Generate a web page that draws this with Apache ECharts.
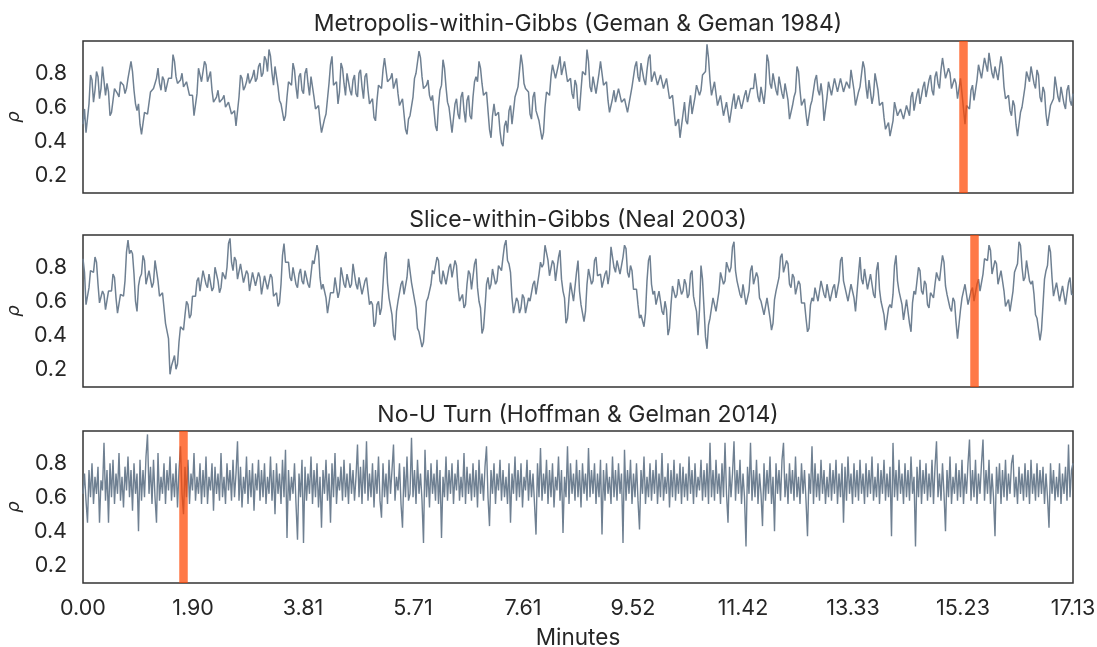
<!DOCTYPE html>
<html><head><meta charset="utf-8">
<script src="https://cdn.jsdelivr.net/npm/echarts@6/dist/echarts.min.js"></script>
<style>html,body{margin:0;padding:0;background:#fff}#c{width:1097px;height:647px}</style>
</head><body><div id="c"></div>
<script>
const panelTitles = ['Metropolis-within-Gibbs (Geman & Geman 1984)', 'Slice-within-Gibbs (Neal 2003)', 'No-U Turn (Hoffman & Gelman 2014)'];
const durationMinutes = 17.133;
const xTickSteps = 9;
const yTickValues = [0.2, 0.4, 0.6, 0.8];
const yRange = [0.095, 0.99];
const highlightMinutes = [15.24, 15.43, 1.74];
const xAxisName = 'Minutes';
const yAxisName = 'ρ';

const metropolis = [
.50,.59,.45,.45,.62,.79,.76,.63,.70,.81,.78,.65,.71,.84,.84,.67,.74,.69,.55,.57,
.58,.71,.70,.68,.66,.75,.75,.73,.68,.71,.77,.77,.87,.81,.70,.62,.58,.62,.50,.44,
.44,.57,.58,.56,.55,.69,.68,.71,.74,.77,.83,.74,.70,.78,.76,.69,.68,.77,.78,.77,
.91,.87,.78,.74,.74,.76,.80,.72,.72,.75,.76,.67,.66,.67,.55,.54,.68,.83,.82,.75,
.76,.87,.85,.75,.78,.81,.70,.63,.64,.66,.70,.63,.62,.65,.67,.60,.60,.63,.63,.56,
.56,.58,.49,.50,.66,.79,.77,.70,.72,.75,.80,.74,.75,.78,.82,.75,.77,.84,.86,.78,
.80,.90,.88,.81,.94,.90,.80,.73,.84,.85,.72,.64,.62,.63,.52,.55,.66,.75,.74,.73,
.86,.82,.72,.65,.78,.80,.70,.68,.80,.83,.74,.67,.78,.79,.66,.59,.58,.61,.52,.45,
.44,.53,.56,.57,.74,.85,.90,.73,.72,.75,.62,.69,.86,.83,.74,.67,.80,.81,.70,.67,
.76,.79,.68,.66,.80,.82,.72,.65,.78,.80,.70,.62,.62,.65,.54,.52,.64,.73,.74,.71,
.82,.89,.90,.75,.74,.77,.80,.71,.70,.77,.68,.61,.62,.65,.56,.47,.44,.53,.55,.55,
.66,.77,.80,.79,.93,.89,.78,.71,.70,.73,.76,.67,.64,.67,.58,.49,.46,.61,.70,.73,
.88,.83,.72,.63,.60,.59,.45,.45,.62,.65,.56,.53,.66,.69,.58,.51,.64,.67,.55,.53,
.66,.75,.78,.75,.87,.83,.74,.67,.66,.69,.58,.47,.42,.55,.62,.55,.54,.57,.46,.39,
.37,.49,.52,.45,.58,.61,.50,.51,.66,.69,.72,.73,.91,.85,.74,.71,.70,.69,.56,.53,
.66,.69,.58,.55,.52,.53,.41,.45,.60,.69,.70,.67,.78,.85,.84,.77,.76,.85,.90,.79,
.80,.87,.88,.75,.74,.77,.68,.65,.76,.73,.60,.58,.70,.81,.80,.79,.94,.87,.72,.69,
.78,.79,.68,.67,.80,.87,.88,.73,.72,.75,.64,.57,.56,.65,.70,.63,.64,.71,.72,.63,
.62,.65,.66,.57,.56,.67,.72,.71,.84,.87,.78,.75,.86,.85,.76,.73,.82,.89,.91,.75,
.74,.81,.82,.73,.72,.79,.78,.71,.70,.77,.76,.65,.66,.67,.58,.49,.50,.53,.42,.43,
.56,.63,.52,.50,.60,.67,.56,.55,.66,.73,.74,.67,.70,.79,.80,.81,.97,.89,.76,.67,
.68,.75,.74,.61,.60,.67,.66,.55,.56,.63,.62,.51,.52,.63,.68,.59,.60,.67,.66,.59,
.58,.67,.70,.63,.62,.71,.72,.71,.80,.79,.66,.63,.72,.71,.62,.71,.91,.87,.74,.71,
.80,.81,.70,.67,.78,.79,.68,.65,.74,.73,.64,.53,.52,.61,.66,.69,.84,.81,.70,.61,
.62,.65,.56,.49,.50,.61,.64,.63,.76,.79,.70,.67,.74,.67,.52,.53,.66,.75,.74,.67,
.68,.77,.76,.69,.70,.77,.78,.69,.68,.75,.74,.71,.82,.81,.70,.61,.60,.69,.72,.73,
.87,.83,.72,.65,.76,.75,.62,.67,.80,.81,.70,.61,.62,.63,.54,.47,.48,.51,.43,.43,
.52,.63,.64,.55,.56,.59,.60,.53,.52,.61,.62,.55,.66,.69,.58,.57,.68,.71,.62,.61,
.72,.75,.66,.65,.76,.79,.70,.67,.78,.81,.74,.71,.82,.89,.88,.77,.76,.83,.80,.71,
.70,.77,.74,.65,.66,.77,.78,.59,.50,.61,.62,.59,.70,.73,.64,.65,.76,.85,.84,.77,
.78,.89,.90,.81,.92,.91,.80,.77,.84,.85,.76,.77,.90,.85,.72,.65,.66,.67,.58,.55,
.64,.61,.50,.43,.44,.57,.60,.61,.72,.81,.80,.75,.84,.83,.74,.71,.82,.79,.66,.63,
.72,.69,.56,.49,.50,.61,.62,.65,.78,.77,.66,.63,.72,.71,.62,.59,.70,.73,.64,.61,.68
];

const slice = [
.85,.77,.58,.58,.68,.78,.78,.77,.86,.83,.70,.59,.58,.66,.64,.55,.56,.66,.66,.66,
.76,.74,.62,.53,.54,.64,.64,.63,.72,.89,.96,.88,.90,.88,.76,.60,.54,.69,.74,.76,
.87,.84,.70,.69,.78,.78,.68,.71,.84,.83,.72,.63,.64,.65,.56,.47,.48,.38,.17,.22,
.25,.28,.20,.23,.36,.45,.44,.43,.52,.60,.58,.50,.52,.63,.64,.63,.72,.74,.66,.67,
.78,.79,.70,.68,.76,.76,.66,.68,.80,.81,.72,.65,.68,.77,.76,.73,.80,.94,.97,.83,
.78,.86,.84,.73,.72,.82,.82,.71,.70,.78,.76,.66,.66,.77,.78,.69,.70,.77,.74,.64,
.64,.75,.76,.67,.68,.76,.74,.63,.62,.65,.57,.59,.70,.87,.94,.83,.82,.83,.74,.72,
.80,.80,.70,.68,.76,.79,.72,.70,.78,.79,.70,.68,.76,.84,.82,.83,.93,.89,.74,.67,
.70,.71,.62,.53,.54,.65,.66,.65,.74,.73,.62,.66,.80,.80,.70,.68,.76,.77,.68,.70,
.82,.81,.70,.67,.74,.74,.64,.63,.72,.74,.66,.58,.60,.58,.45,.47,.58,.60,.52,.56,
.70,.85,.89,.71,.62,.62,.52,.40,.37,.54,.60,.60,.70,.72,.64,.64,.74,.85,.85,.71,
.66,.66,.56,.44,.42,.43,.33,.36,.48,.60,.62,.61,.70,.78,.76,.76,.86,.84,.72,.70,
.78,.79,.70,.70,.80,.82,.74,.74,.84,.81,.68,.60,.62,.64,.56,.58,.70,.78,.76,.67,
.68,.82,.85,.68,.60,.56,.41,.44,.56,.70,.74,.67,.70,.79,.78,.70,.72,.81,.80,.78,
.86,.93,.96,.84,.82,.77,.62,.53,.54,.62,.60,.53,.56,.64,.62,.53,.54,.62,.60,.60,
.70,.72,.64,.65,.76,.83,.80,.82,.93,.92,.84,.75,.76,.84,.82,.72,.72,.86,.90,.73,
.66,.62,.47,.50,.62,.71,.70,.60,.60,.77,.84,.66,.58,.58,.48,.54,.70,.79,.78,.70,
.72,.84,.86,.75,.74,.76,.68,.67,.76,.78,.70,.76,.92,.91,.80,.77,.84,.85,.76,.76,
.86,.93,.91,.77,.74,.81,.78,.67,.66,.67,.58,.50,.52,.53,.45,.53,.72,.84,.87,.70,
.64,.66,.58,.57,.66,.65,.54,.52,.60,.55,.40,.44,.58,.69,.70,.62,.64,.73,.72,.64,
.66,.73,.70,.62,.64,.76,.78,.63,.58,.54,.40,.55,.81,.73,.56,.39,.32,.46,.50,.51,
.62,.63,.54,.55,.66,.77,.78,.70,.72,.83,.84,.77,.80,.92,.95,.78,.72,.73,.64,.62,
.70,.69,.58,.57,.66,.78,.81,.70,.70,.77,.74,.62,.60,.61,.52,.52,.62,.61,.50,.43,
.47,.61,.66,.65,.74,.86,.88,.77,.76,.84,.82,.70,.68,.76,.74,.64,.64,.72,.70,.59,
.58,.59,.50,.42,.44,.58,.62,.60,.68,.69,.60,.61,.72,.73,.64,.62,.70,.70,.60,.59,
.68,.70,.62,.62,.72,.84,.86,.72,.68,.69,.60,.60,.70,.71,.62,.54,.55,.76,.86,.73,
.70,.79,.78,.67,.66,.76,.76,.64,.62,.78,.83,.67,.60,.61,.52,.43,.44,.56,.58,.56,
.64,.81,.87,.72,.66,.67,.58,.49,.50,.61,.62,.47,.42,.59,.66,.64,.72,.80,.78,.66,
.64,.72,.70,.58,.56,.65,.64,.62,.70,.77,.74,.72,.80,.87,.83,.69,.64,.65,.56,.54,
.62,.60,.48,.38,.38,.55,.62,.61,.70,.69,.58,.57,.66,.68,.60,.60,.70,.73,.66,.66,
.76,.85,.84,.84,.93,.90,.76,.75,.84,.82,.70,.69,.78,.77,.66,.57,.58,.61,.54,.55,
.66,.77,.78,.82,.95,.93,.80,.72,.74,.84,.84,.72,.70,.72,.64,.52,.50,.49,.37,.43,
.58,.73,.78,.81,.93,.89,.74,.63,.62,.71,.70,.60,.60,.69,.68,.58,.58,.71,.74,.64,.64
];

const nuts = [
.62,.74,.58,.45,.76,.60,.80,.56,.72,.62,.78,.45,.70,.64,.92,.58,.76,.45,.80,.60,
.82,.56,.74,.62,.86,.58,.72,.54,.78,.64,.84,.60,.76,.52,.80,.62,.74,.40,.82,.58,
.76,.60,.84,.97,.62,.78,.56,.82,.60,.45,.86,.58,.72,.62,.80,.56,.76,.64,.84,.58,
.74,.60,.80,.54,.76,.90,.62,.50,.78,.60,.82,.56,.74,.64,.86,.58,.72,.62,.80,.56,
.76,.60,.84,.56,.72,.64,.80,.52,.78,.62,.74,.58,.86,.60,.72,.56,.80,.64,.76,.58,
.82,.60,.74,.93,.58,.78,.54,.72,.62,.84,.56,.76,.60,.80,.52,.74,.64,.82,.58,.76,
.60,.80,.56,.72,.62,.84,.58,.76,.50,.80,.62,.74,.56,.82,.60,.88,.36,.76,.58,.72,
.62,.80,.56,.35,.74,.60,.82,.33,.78,.58,.74,.62,.84,.56,.76,.60,.80,.54,.72,.42,
.76,.62,.82,.58,.74,.45,.80,.60,.86,.56,.72,.64,.78,.58,.82,.60,.74,.56,.80,.62,
.76,.58,.72,.91,.60,.78,.56,.82,.62,.93,.58,.74,.60,.80,.54,.76,.62,.84,.58,.48,
.80,.60,.74,.56,.82,.62,.76,.91,.58,.72,.64,.80,.56,.42,.78,.60,.84,.58,.62,.95,
.60,.76,.56,.82,.62,.74,.58,.33,.88,.60,.76,.54,.80,.62,.74,.58,.82,.56,.76,.36,
.72,.60,.84,.58,.76,.62,.80,.56,.74,.64,.82,.58,.72,.60,.86,.56,.78,.62,.74,.58,
.80,.60,.76,.54,.82,.62,.74,.58,.78,.90,.60,.43,.76,.62,.80,.56,.74,.64,.82,.58,
.76,.60,.72,.56,.80,.45,.74,.62,.84,.58,.76,.60,.80,.54,.72,.64,.82,.58,.76,.60,
.74,.56,.38,.80,.60,.89,.58,.74,.62,.82,.56,.76,.60,.80,.54,.72,.64,.84,.58,.76,
.39,.72,.60,.90,.56,.80,.62,.74,.58,.82,.60,.76,.54,.80,.62,.74,.58,.89,.60,.76,
.62,.80,.56,.74,.60,.82,.38,.76,.58,.80,.62,.72,.56,.84,.60,.76,.58,.80,.62,.74,
.33,.88,.58,.76,.62,.82,.56,.74,.60,.80,.58,.41,.76,.62,.84,.56,.72,.60,.80,.58,
.76,.62,.82,.56,.74,.60,.86,.58,.72,.62,.80,.54,.76,.60,.82,.58,.74,.62,.80,.56,
.78,.60,.74,.58,.84,.62,.76,.56,.80,.60,.72,.64,.82,.58,.76,.60,.80,.56,.92,.60,
.76,.58,.82,.62,.74,.56,.80,.60,.92,.62,.45,.78,.60,.74,.93,.58,.76,.62,.82,.56,
.74,.60,.31,.78,.62,.92,.58,.76,.60,.82,.56,.74,.62,.43,.80,.58,.76,.62,.84,.56,
.72,.40,.80,.62,.76,.58,.82,.92,.60,.74,.56,.80,.62,.76,.58,.84,.60,.72,.56,.80,
.62,.76,.58,.37,.74,.62,.90,.56,.80,.60,.74,.58,.82,.62,.76,.56,.72,.60,.80,.58,
.76,.62,.82,.56,.74,.60,.80,.45,.78,.58,.84,.62,.74,.56,.80,.60,.76,.58,.82,.62,
.74,.56,.80,.60,.76,.62,.84,.58,.72,.60,.80,.56,.76,.62,.82,.58,.74,.60,.78,.37,
.92,.60,.76,.58,.82,.62,.74,.56,.80,.60,.76,.58,.84,.62,.72,.31,.78,.60,.82,.56,
.76,.62,.80,.58,.74,.60,.82,.56,.78,.93,.60,.74,.58,.80,.62,.40,.76,.60,.84,.56,
.72,.62,.80,.58,.76,.60,.82,.56,.74,.62,.80,.94,.58,.76,.60,.82,.56,.74,.62,.80,
.94,.58,.76,.62,.82,.56,.74,.60,.37,.78,.62,.80,.56,.76,.60,.82,.58,.74,.62,.80,
.85,.60,.72,.56,.78,.62,.74,.58,.80,.60,.76,.56,.82,.62,.74,.58,.80,.60,.76,.62,
.78,.56,.74,.60,.42,.80,.62,.76,.58,.72,.60,.80,.56,.74,.62,.78,.58,.91,.60,.76,
.80
];

const traces = [metropolis, slice, nuts];

const FONT = 'Inter';
const RHO_FONT = 'DejaVu Sans';
const TEXT = '#262626';
const LINE = '#6f8092';
const HIGHLIGHT = 'rgba(255,69,0,0.72)';
const gridTops = [41, 235, 431];
const gridHeight = 152;
const titleTops = [13, 209, 404];
const lineWidths = [1.5, 1.5, 1.4];

function toPairs(vals) {
  const n = vals.length;
  return vals.map((v, i) => [i * durationMinutes / (n - 1), v]);
}

const option = {
  animation: false,
  backgroundColor: '#fff',
  title: panelTitles.map((t, i) => ({
    text: t, left: 578, top: titleTops[i], textAlign: 'center', padding: 0,
    textStyle: { fontFamily: FONT, fontSize: 23, fontWeight: 'normal', color: TEXT }
  })),
  grid: gridTops.map(t => ({
    left: 83, right: 24, top: t, height: gridHeight,
    outerBoundsMode: 'none', containLabel: false,
    show: true, borderColor: '#333', borderWidth: 1.5, backgroundColor: '#fff'
  })),
  xAxis: gridTops.map((t, i) => ({
    type: 'value', gridIndex: i, min: 0, max: durationMinutes,
    interval: durationMinutes / xTickSteps,
    axisLine: { show: false }, axisTick: { show: false }, splitLine: { show: false },
    axisLabel: {
      show: i === 2, margin: 15, fontFamily: FONT, fontSize: 21.5, color: TEXT,
      formatter: v => v.toFixed(2)
    },
    name: i === 2 ? xAxisName : '', nameLocation: 'middle', nameGap: 44,
    nameTextStyle: { fontFamily: FONT, fontSize: 22.5, color: TEXT }
  })),
  yAxis: gridTops.map((t, i) => ({
    type: 'value', gridIndex: i, min: yRange[0], max: yRange[1],
    axisLine: { show: false }, axisTick: { show: false }, splitLine: { show: false },
    axisLabel: {
      customValues: yTickValues, margin: 16, fontFamily: FONT, fontSize: 21.5, color: TEXT,
      formatter: v => v.toFixed(1)
    },
    name: yAxisName, nameLocation: 'middle', nameGap: 58, nameRotate: 90,
    nameTextStyle: { fontFamily: RHO_FONT, fontSize: 18, fontStyle: 'italic', color: TEXT }
  })),
  series: traces.map((vals, i) => ({
    type: 'line', xAxisIndex: i, yAxisIndex: i, data: toPairs(vals),
    symbol: 'none', sampling: null, smooth: false,
    lineStyle: { color: LINE, width: lineWidths[i] },
    markLine: {
      silent: true, symbol: 'none', label: { show: false },
      lineStyle: { color: HIGHLIGHT, width: 8.5, type: 'solid' },
      data: [{ xAxis: highlightMinutes[i] }]
    }
  }))
};

const chart = echarts.init(document.getElementById('c'), null, { renderer: 'canvas' });
chart.setOption(option);
</script>
</body></html>
